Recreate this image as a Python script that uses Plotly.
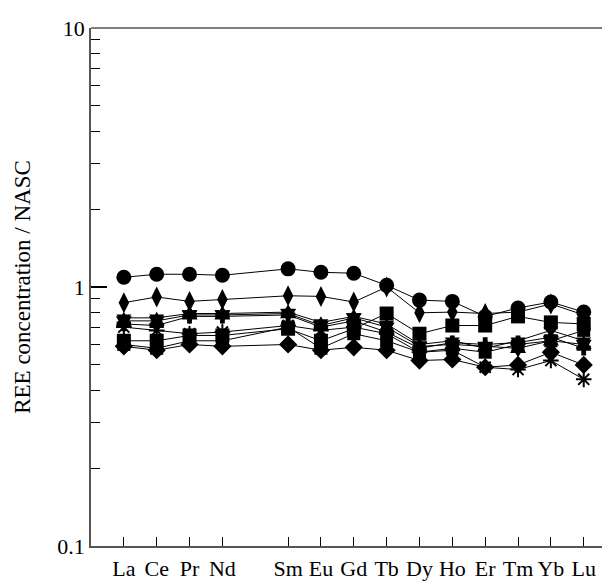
import plotly.graph_objects as go

elements = ["La", "Ce", "Pr", "Nd", "Sm", "Eu", "Gd", "Tb", "Dy", "Ho", "Er", "Tm", "Yb", "Lu"]
positions = [1, 2, 3, 4, 6, 7, 8, 9, 10, 11, 12, 13, 14, 15]

circle_vals   = [1.09, 1.12, 1.12, 1.11, 1.175, 1.14, 1.13, 1.015, 0.89, 0.88, 0.77, 0.83, 0.875, 0.80]
tdiamond_vals = [0.87, 0.915, 0.88, 0.895, 0.925, 0.92, 0.875, 1.00, 0.795, 0.80, 0.79, 0.80, 0.86, 0.78]
tridown_vals  = [0.76, 0.76, 0.79, 0.79, 0.80, 0.73, 0.77, 0.72, 0.60, 0.62, 0.58, 0.62, 0.68, 0.62]
star_vals     = [0.74, 0.74, 0.78, 0.78, 0.79, 0.71, 0.76, 0.70, 0.59, 0.60, 0.59, 0.58, 0.62, 0.60]
cross_vals    = [0.72, 0.71, 0.77, 0.77, 0.78, 0.70, 0.74, 0.67, 0.58, 0.61, 0.60, 0.61, 0.64, 0.58]
square_vals   = [0.62, 0.62, 0.65, 0.65, 0.69, 0.62, 0.69, 0.79, 0.66, 0.71, 0.71, 0.77, 0.73, 0.72]
square2_vals  = [0.60, 0.58, 0.62, 0.62, 0.70, 0.58, 0.66, 0.62, 0.56, 0.58, 0.56, 0.60, 0.62, 0.68]
diamond_vals  = [0.59, 0.57, 0.60, 0.59, 0.60, 0.57, 0.585, 0.57, 0.52, 0.525, 0.49, 0.50, 0.56, 0.50]
aster_vals    = [0.70, 0.68, 0.66, 0.67, 0.71, 0.68, 0.70, 0.66, 0.56, 0.57, 0.49, 0.48, 0.52, 0.44]

series = [
    (square2_vals, "square", 13),
    (diamond_vals, "diamond", 14),
    (aster_vals, "asterisk-open", 13),
    (cross_vals, "cross", 12),
    (star_vals, "hexagram", 14),
    (tridown_vals, "triangle-down", 13),
    (square_vals, "square", 14),
    (tdiamond_vals, "diamond-tall", 15),
    (circle_vals, "circle", 15),
]

fig = go.Figure()
for vals, sym, size in series:
    fig.add_trace(go.Scatter(
        x=positions, y=vals, mode="lines+markers",
        line=dict(color="black", width=1),
        marker=dict(symbol=sym, size=size, color="black",
                    line=dict(color="black", width=2 if sym == "asterisk-open" else 0)),
        showlegend=False,
    ))

font = "Liberation Serif, Times New Roman, serif"
minor_vals = [0.2, 0.3, 0.4, 0.5, 0.6, 0.7, 0.8, 0.9, 2, 3, 4, 5, 6, 7, 8, 9]

fig.add_shape(type="line", xref="paper", yref="paper", x0=0, x1=1, y0=1, y1=1,
              line=dict(color="#555", width=1.5))

fig.update_layout(
    width=610, height=583,
    margin=dict(l=83, r=8, t=15, b=45),
    plot_bgcolor="white", paper_bgcolor="white",
    font=dict(family=font, size=22, color="black"),
    xaxis=dict(
        range=[0, 15.80], tickvals=positions, ticktext=elements,
        ticks="inside", ticklen=9, tickwidth=1, tickcolor="black",
        showline=True, linecolor="#555", linewidth=1.5, mirror=False,
        showgrid=False, zeroline=False, ticklabelstandoff=2,
        tickfont=dict(family=font, size=22),
    ),
    yaxis=dict(
        type="log", range=[-1, 1],
        tickvals=[0.1, 1, 10], ticktext=["0.1", "1", "10"],
        ticks="inside", ticklen=16, tickwidth=1.5, tickcolor="black",
        showline=True, linecolor="#555", linewidth=1.5,
        showgrid=False, zeroline=False,
        minor=dict(tickmode="array", tickvals=minor_vals, ticks="inside",
                   ticklen=9, tickwidth=1, tickcolor="black", showgrid=False),
        title=dict(text="REE concentration / NASC", font=dict(family=font, size=23), standoff=20),
        tickfont=dict(family=font, size=22),
    ),
)

fig.write_html("out.html")
